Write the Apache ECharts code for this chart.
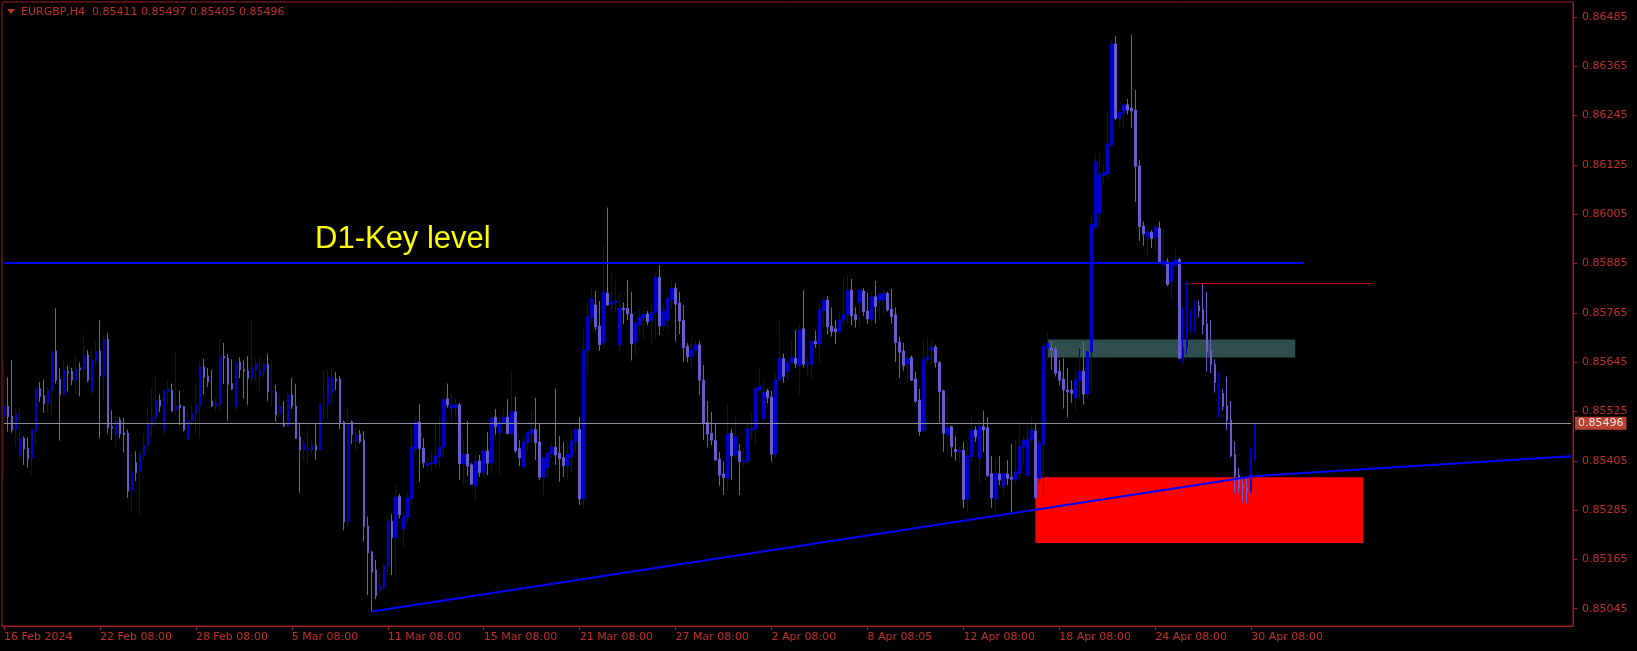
<!DOCTYPE html>
<html><head><meta charset="utf-8">
<script src="https://cdn.jsdelivr.net/npm/echarts@6/dist/echarts.min.js"></script>
<style>html,body{margin:0;padding:0;background:#000;}#c{width:1637px;height:651px;}</style>
</head><body><div id="c"></div>
<script>
// ---- data (prices in points, 1 point = 0.00001) ----
const symbolName = 'EURGBP,H4';
// [open, close, low, high] per H4 candle
const ohlc = [
[85512,85538,85370,85638],[85538,85512,85476,85608],[85514,85480,85473,85650],[85480,85520,85439,85533],[85417,85460,85407,85533],[85460,85434,85395,85464],[85436,85410,85388,85462],[85410,85481,85370,85484],
[85476,85581,85441,85583],[85580,85561,85548,85596],[85564,85543,85522,85603],[85545,85577,85522,85585],[85575,85670,85514,85674],[85672,85601,85593,85776],[85603,85566,85454,85630],[85566,85626,85564,85650],
[85622,85618,85573,85636],[85622,85601,85589,85631],[85600,85627,85569,85664],[85631,85626,85562,85644],[85626,85661,85608,85713],[85662,85601,85597,85674],[85575,85650,85565,85676],[85648,85671,85636,85695],
[85672,85611,85460,85747],[85610,85700,85557,85711],[85700,85485,85472,85715],[85488,85484,85455,85528],[85466,85502,85439,85514],[85504,85470,85460,85511],[85473,85468,85425,85509],[85472,85331,85315,85481],
[85331,85378,85279,85421],[85400,85376,85356,85428],[85380,85422,85273,85426],[85418,85443,85408,85472],[85443,85494,85427,85533],[85492,85512,85461,85582],[85509,85553,85492,85611],[85553,85538,85524,85567],
[85480,85575,85468,85577],[85573,85580,85541,85603],[85577,85526,85524,85593],[85528,85538,85516,85672],[85541,85534,85492,85575],[85537,85480,85476,85539],[85458,85504,85454,85527],[85502,85519,85493,85540],
[85519,85541,85472,85592],[85539,85634,85459,85646],[85633,85608,85567,85653],[85611,85597,85584,85631],[85550,85538,85536,85626],[85538,85543,85522,85559],[85541,85660,85524,85700],[85660,85655,85592,85692],
[85655,85591,85502,85665],[85593,85580,85577,85652],[85537,85645,85522,85650],[85645,85626,85606,85657],[85627,85623,85556,85649],[85623,85606,85541,85660],[85606,85632,85593,85750],[85627,85642,85599,85655],
[85612,85626,85575,85660],[85624,85640,85607,85644],[85640,85572,85550,85665],[85572,85574,85535,85650],[85572,85516,85500,85589],[85519,85538,85511,85569],[85494,85490,85486,85550],[85490,85565,85488,85573],
[85565,85538,85531,85606],[85538,85460,85458,85592],[85463,85431,85327,85496],[85431,85447,85403,85455],[85431,85434,85397,85480],[85431,85442,85421,85457],[85442,85431,85407,85496],[85431,85543,85429,85545],
[85541,85543,85502,85623],[85541,85608,85506,85627],[85569,85607,85543,85630],[85604,85599,85577,85621],[85604,85496,85482,85610],[85499,85256,85236,85502],[85256,85494,85245,85535],[85500,85468,85446,85503],
[85451,85468,85427,85484],[85470,85451,85447,85480],[85455,85245,85208,85477],[85246,85181,85078,85269],[85183,85134,85038,85186],[85139,85076,85068,85163],[85090,85102,85086,85134],[85097,85149,85094,85155],
[85147,85258,85127,85273],[85258,85218,85127,85275],[85218,85316,85127,85348],[85318,85273,85265,85324],[85239,85269,85196,85285],[85267,85315,85254,85330],[85313,85438,85296,85488],[85434,85499,85421,85511],
[85499,85435,85354,85543],[85436,85400,85387,85460],[85394,85399,85378,85417],[85397,85400,85378,85425],[85399,85417,85389,85498],[85415,85438,85389,85514],[85438,85554,85415,85559],[85556,85541,85534,85593],
[85533,85541,85500,85569],[85534,85541,85512,85557],[85541,85398,85358,85546],[85397,85421,85346,85457],[85421,85392,85368,85502],[85395,85348,85346,85399],[85344,85404,85305,85423],[85404,85376,85366,85419],
[85376,85429,85366,85435],[85429,85399,85370,85475],[85399,85508,85374,85518],[85511,85488,85468,85531],[85473,85498,85368,85512],[85498,85511,85494,85531],[85511,85471,85469,85555],[85471,85524,85467,85623],
[85524,85429,85425,85561],[85434,85412,85392,85455],[85390,85451,85380,85465],[85449,85474,85431,85476],[85472,85481,85449,85528],[85481,85449,85407,85558],[85451,85365,85358,85496],[85365,85412,85319,85414],
[85388,85424,85362,85426],[85422,85438,85412,85450],[85438,85419,85395,85580],[85424,85410,85354,85465],[85413,85393,85365,85451],[85392,85421,85356,85451],[85415,85453,85378,85480],[85451,85481,85425,85488],
[85481,85312,85297,85512],[85312,85674,85289,85727],[85673,85755,85614,85792],[85753,85799,85739,85825],[85784,85731,85723,85818],[85733,85687,85672,85794],[85692,85815,85684,85928],[85813,85784,85782,86021],
[85786,85790,85762,85863],[85790,85794,85766,85842],[85687,85776,85670,85814],[85776,85772,85738,85790],[85776,85762,85747,85845],[85762,85689,85649,85816],[85693,85739,85662,85742],[85735,85755,85713,85773],
[85752,85762,85701,85770],[85762,85743,85735,85769],[85746,85766,85687,85782],[85766,85851,85703,85861],[85851,85733,85711,85881],[85733,85769,85719,85786],[85747,85799,85723,85808],[85796,85825,85776,85847],
[85825,85786,85695,85837],[85789,85745,85713,85816],[85747,85680,85646,85784],[85683,85658,85644,85691],[85658,85674,85630,85707],[85674,85687,85669,85699],[85687,85601,85565,85696],[85601,85496,85455,85638],
[85498,85470,85437,85550],[85472,85455,85443,85524],[85455,85407,85405,85495],[85409,85370,85344,85427],[85373,85364,85322,85403],[85362,85470,85331,85542],[85472,85417,85358,85482],[85419,85464,85411,85517],
[85429,85403,85322,85446],[85403,85405,85388,85435],[85404,85482,85395,85496],[85480,85484,85459,85520],[85482,85580,85442,85585],[85576,85587,85573,85631],[85507,85571,85492,85604],[85575,85558,85545,85580],
[85560,85421,85403,85575],[85421,85601,85407,85618],[85601,85654,85599,85750],[85654,85610,85595,85666],[85622,85644,85603,85650],[85644,85657,85640,85699],[85654,85641,85631,85723],[85636,85723,85565,85739],
[85726,85640,85632,85820],[85640,85642,85612,85656],[85640,85696,85601,85698],[85696,85689,85680,85721],[85689,85772,85640,85786],[85770,85796,85731,85803],[85796,85731,85713,85806],[85733,85719,85707,85778],
[85726,85719,85689,85747],[85719,85748,85713,85765],[85747,85760,85733,85855],[85760,85820,85739,85859],[85820,85758,85735,85847],[85760,85748,85729,85778],[85790,85820,85733,85822],[85818,85768,85757,85825],
[85769,85750,85738,85813],[85748,85804,85731,85815],[85804,85780,85739,85842],[85795,85810,85748,85815],[85796,85812,85761,85820],[85812,85772,85768,85816],[85774,85756,85739,85823],[85760,85692,85645,85778],
[85694,85669,85607,85707],[85672,85636,85623,85692],[85640,85654,85596,85660],[85656,85601,85599,85661],[85604,85550,85545,85622],[85553,85476,85466,85580],[85478,85652,85474,85701],[85652,85657,85642,85707],
[85674,85681,85640,85700],[85681,85644,85632,85687],[85644,85573,85498,85647],[85575,85472,85427,85578],[85468,85486,85423,85567],[85488,85439,85415,85490],[85433,85427,85405,85464],[85427,85431,85400,85439],
[85430,85311,85289,85451],[85311,85417,85281,85451],[85415,85480,85403,85516],[85480,85464,85451,85489],[85411,85489,85348,85504],[85488,85480,85427,85527],[85485,85369,85366,85511],[85374,85315,85291,85417],
[85312,85374,85269,85407],[85373,85358,85346,85417],[85343,85374,85322,85382],[85373,85362,85346,85407],[85365,85360,85277,85446],[85358,85378,85348,85457],[85374,85439,85358,85500],[85438,85455,85395,85465],
[85369,85457,85366,85489],[85457,85480,85449,85514],[85477,85315,85313,85496],[85362,85447,85350,85458],[85445,85682,85320,85695],[85679,85691,85654,85719],[85679,85674,85626,85696],[85677,85618,85610,85683],
[85623,85601,85589,85650],[85604,85577,85532,85654],[85577,85573,85510,85631],[85577,85569,85545,85601],[85558,85601,85528,85623],[85599,85623,85557,85679],[85623,85567,85542,85695],[85567,85670,85558,85672],
[85670,85980,85575,85999],[85971,86133,85969,86151],[86007,86100,85975,86153],[86098,86106,86078,86126],[86103,86176,86092,86250],[86173,86419,86171,86429],[86419,86238,86234,86439],[86238,86252,86212,86260],
[86250,86271,86214,86274],[86271,86258,86248,86285],[86263,86256,86214,86441],[86258,86121,86035,86307],[86122,85975,85940,86137],[85976,85957,85928,85987],[85948,85961,85904,85975],[85961,85946,85922,85966],
[85949,85973,85914,85979],[85971,85889,85884,85987],[85881,85892,85877,85967],[85889,85834,85830,85898],[85841,85885,85795,85889],[85881,85894,85877,85918],[85894,85654,85652,85898],[85656,85681,85642,85776],
[85680,85745,85665,85841],[85743,85754,85717,85772],[85719,85782,85715,85796],[85782,85769,85754,85795],[85772,85735,85713,85837],[85738,85670,85622,85816],[85672,85638,85618,85747],[85640,85595,85571,85652],
[85549,85569,85510,85622],[85569,85537,85527,85580],[85538,85504,85480,85610],[85504,85417,85413,85550],[85421,85368,85326,85451],[85370,85338,85326,85387],[85344,85339,85305,85366],[85339,85330,85301,85362],
[85332,85408,85327,85438],[85411,85496,85405,85497]
];
const tickIndex = [0,24,48,72,96,120,144,168,192,216,240,264,288,312];
const tickLabels = ['16 Feb 2024','22 Feb 08:00','28 Feb 08:00','5 Mar 08:00','11 Mar 08:00','15 Mar 08:00','21 Mar 08:00','27 Mar 08:00','2 Apr 08:00','8 Apr 08:05','12 Apr 08:00','18 Apr 08:00','24 Apr 08:00','30 Apr 08:00'];
const priceTicks = [0.85045,0.85165,0.85285,0.85405,0.85525,0.85645,0.85765,0.85885,0.86005,0.86125,0.86245,0.86365,0.86485];
const keyLevel = [[0, 85886],[325, 85886]];
const keyLevelText = 'D1-Key level';
const trendLine = [[92, 85038],[313, 85368],[392, 85416]];
const redZone = [[258, 85365],[340, 85205]];
const greenZone = [[261, 85700],[323, 85656]];
const swingHigh = [[297, 85837],[342, 85837]];
const lastPrice = 85496;
const SLOTS = 393;

// ---- chart ----
const P = v => v / 100000;
const AX = '#C0302A', AXL = '#9E1E1E';
const cats = Array.from({length: SLOTS}, (_, i) => String(i));
const labelMap = {};
tickIndex.forEach((t, k) => { labelMap[t] = tickLabels[k]; });
const isTick = i => labelMap[i] !== undefined;
const last = ohlc[ohlc.length - 1];
const headerText = symbolName + '  ' + [last[0], last[3], last[2], last[1]].map(v => P(v).toFixed(5)).join(' ');

const chart = echarts.init(document.getElementById('c'), null, {renderer: 'canvas'});
const seg = (a, b, color, width) => [
  {coord: [a[0], P(a[1])], lineStyle: {color, width, type: 'solid'}},
  {coord: [b[0], P(b[1])]}
];
const trendSegs = [];
for (let k = 0; k < trendLine.length - 1; k++) trendSegs.push(seg(trendLine[k], trendLine[k + 1], '#0000FF', 2));
chart.setOption({
  backgroundColor: '#000000',
  animation: false,
  grid: {left: 2, top: 2, right: 64, bottom: 25, show: true, borderColor: AXL, borderWidth: 1},
  xAxis: {
    type: 'category', data: cats, boundaryGap: true,
    axisLine: {show: true, lineStyle: {color: AXL}},
    axisTick: {show: true, alignWithLabel: true, interval: i => isTick(i), length: 4, lineStyle: {color: AXL}},
    axisLabel: {interval: i => isTick(i), formatter: (v, i) => labelMap[i] || '', align: 'left',
      color: AX, fontFamily: 'DejaVu Sans', fontSize: 11, margin: 6},
    splitLine: {show: false}
  },
  yAxis: {
    type: 'value', position: 'right', min: 0.85003, max: 0.86521,
    axisLine: {show: true, lineStyle: {color: AXL}},
    axisTick: {show: true, customValues: priceTicks, length: 4, lineStyle: {color: AXL}},
    axisLabel: {customValues: priceTicks, formatter: v => v.toFixed(5), color: AX,
      fontFamily: 'DejaVu Sans', fontSize: 11, margin: 9},
    splitLine: {show: false}
  },
  series: [{
    type: 'candlestick',
    data: ohlc.map(c => c.map(P)),
    barWidth: 2,
    itemStyle: {color: '#0000CD', color0: '#6A5ACD', borderColor: '#0000CD', borderColor0: '#6A5ACD', borderWidth: 1},
    markArea: {
      silent: true,
      data: [
        [{coord: [redZone[0][0], P(redZone[0][1])], itemStyle: {color: '#FF0000', opacity: 1}}, {coord: [redZone[1][0], P(redZone[1][1])]}],
        [{coord: [greenZone[0][0], P(greenZone[0][1])], itemStyle: {color: '#2F4F4F', opacity: 1}}, {coord: [greenZone[1][0], P(greenZone[1][1])]}]
      ]
    },
    markLine: {
      silent: true, symbol: ['none', 'none'], animation: false,
      label: {show: false},
      data: [
        seg(keyLevel[0], keyLevel[1], '#0000FF', 2),
        ...trendSegs,
        seg(swingHigh[0], swingHigh[1], '#CC0000', 1),
        [{coord: [0, P(lastPrice)], lineStyle: {color: '#8A8F9E', width: 1, type: 'solid'},
          label: {show: true, position: 'end', distance: 4, formatter: () => P(lastPrice).toFixed(5),
            backgroundColor: '#B8412F', color: '#E6E6E6', fontFamily: 'DejaVu Sans', fontSize: 11, padding: [1, 3, 1, 3]}},
         {coord: [SLOTS - 1, P(lastPrice)]}]
      ]
    }
  }],
  graphic: [
    {type: 'polygon', shape: {points: [[7, 9], [15, 9], [11, 14]]}, style: {fill: AX}, silent: true},
    {type: 'text', x: 21, y: 12, style: {text: headerText, fill: AX, font: '11px "DejaVu Sans"', textVerticalAlign: 'middle'}, silent: true},
    {type: 'text', x: 315, y: 239, style: {text: keyLevelText, fill: '#FFFF00', font: '31px "Liberation Sans"', textVerticalAlign: 'middle'}, silent: true}
  ]
});
</script>
</body></html>
